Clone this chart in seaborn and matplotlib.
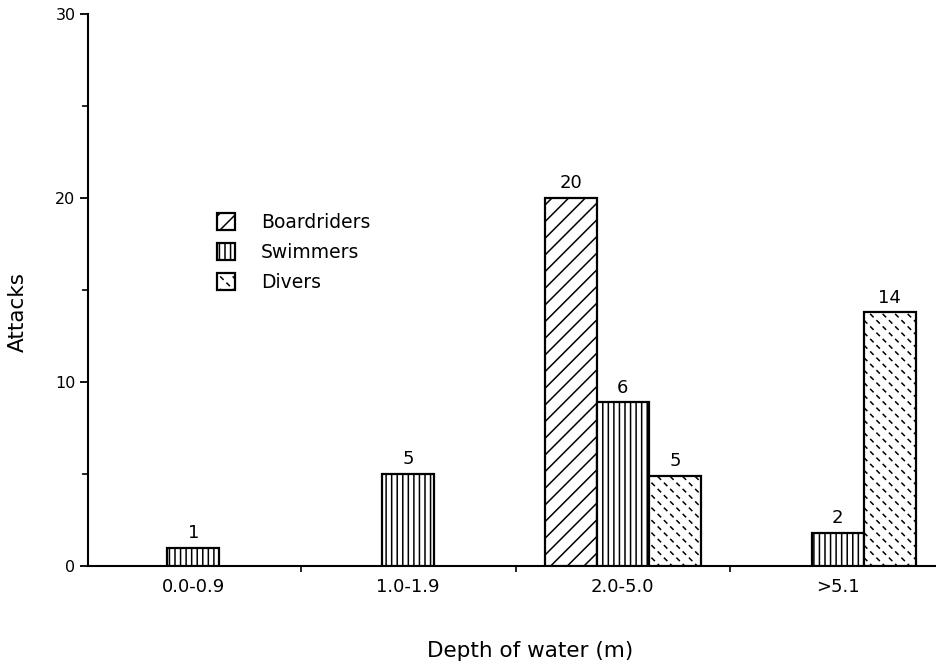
import numpy as np
import pandas as pd
import matplotlib
matplotlib.use("Agg")
import matplotlib.pyplot as plt
import matplotlib.hatch as mhatch
from matplotlib.path import Path
import seaborn as sns

# ---- data ----
categories = ["0.0-0.9", "1.0-1.9", "2.0-5.0", ">5.1"]
series = ["Boardriders", "Swimmers", "Divers"]
boardriders = [0, 0, 20, 0]
swimmers = [1, 5, 8.9, 1.8]
divers = [0, 0, 4.9, 13.8]
boardriders_labels = ["", "", "20", ""]
swimmers_labels = ["1", "5", "6", "2"]
divers_labels = ["", "", "5", "14"]
yticks_major = [0, 10, 20, 30]
yticks_minor = [5, 15, 25]


# ---- custom dashed hatch (replaces the '*' star hatch) ----
class DashHatch(mhatch.HatchPatternBase):
    def __init__(self, hatch, density):
        self.on = hatch.count('*') > 0
        self.nx = 8
        self.ny = 16
        self.num_vertices = self.nx * self.ny * 2 if self.on else 0

    def set_vertices_and_codes(self, vertices, codes):
        d = 0.012
        k = 0
        for i in range(self.ny):
            for j in range(self.nx):
                cx = ((j + 0.25 + 0.5 * (i % 2)) / self.nx) % 1.0
                cy = (i + 0.5) / self.ny
                vertices[k] = (cx - d, cy + d)
                vertices[k + 1] = (cx + d, cy - d)
                codes[k] = Path.MOVETO
                codes[k + 1] = Path.LINETO
                k += 2


mhatch._hatch_types = [t for t in mhatch._hatch_types if t is not mhatch.Stars] + [DashHatch]

rows = []
for name, vals in zip(series, [boardriders, swimmers, divers]):
    for c, v in zip(categories, vals):
        if v > 0:
            rows.append({"depth": c, "attacks": v, "group": name})
df = pd.DataFrame(rows)
label_map = {"Boardriders": boardriders_labels, "Swimmers": swimmers_labels, "Divers": divers_labels}
vals_map = {"Boardriders": boardriders, "Swimmers": swimmers, "Divers": divers}
hatch_map = {"Boardriders": "//", "Swimmers": "|||", "Divers": "*"}

sns.set_theme(style="ticks")
plt.rcParams["font.family"] = ["DejaVu Sans"]
plt.rcParams["hatch.linewidth"] = 1.1
plt.rcParams["text.color"] = "black"
plt.rcParams["axes.labelcolor"] = "black"

fig = plt.figure(figsize=(9.37, 6.63), dpi=100)
ax = fig.add_axes([88 / 937, 97 / 663, 849 / 937, 552 / 663])

sns.barplot(data=df, x="depth", y="attacks", hue="group", order=categories,
            hue_order=series, palette=["white"] * 3, saturation=1,
            edgecolor="black", linewidth=1.6, width=0.726, errorbar=None,
            dodge=True, ax=ax, zorder=3)

conts = list(ax.containers)
for name, cont in zip(series, conts):
    for p in cont.patches:
        p.set_hatch(hatch_map[name])
        p.set_edgecolor("black")
    lbls = [l for l, v in zip(label_map[name], vals_map[name]) if v > 0]
    ax.bar_label(cont, labels=lbls, padding=4, fontsize=13, color="black")

if ax.get_legend() is not None:
    ax.get_legend().remove()
leg = ax.legend(handles=conts, labels=series, loc="upper left",
                bbox_to_anchor=(217 / 937, 1 - 213 / 663), bbox_transform=fig.transFigure,
                frameon=False, fontsize=13.5, handlelength=0.95, handleheight=1.0,
                handletextpad=1.4, labelspacing=0.58, borderpad=0, borderaxespad=0)
for t in leg.get_texts():
    t.set_color("black")

ax.set_xlim(-0.491, 3.463)
ax.set_ylim(0, 30)
ax.set_yticks(yticks_major)
ax.set_yticks(yticks_minor, minor=True)
ax.set_xticks(range(len(categories)))
ax.set_xticklabels(categories)
ax.set_xticks([0.5, 1.5, 2.5], minor=True)

ax.tick_params(axis="x", which="major", length=0, pad=9, labelsize=13, colors="black")
ax.tick_params(axis="x", which="minor", length=4, width=1.2, direction="out", color="black")
ax.tick_params(axis="y", which="major", length=6, width=1.3, pad=3, labelsize=11.5, colors="black")
ax.tick_params(axis="y", which="minor", length=4, width=1.2, color="black")

for s in ["top", "right"]:
    ax.spines[s].set_visible(False)
for s in ["left", "bottom"]:
    ax.spines[s].set_linewidth(1.5)
    ax.spines[s].set_color("black")

ax.set_xlabel("Depth of water (m)", fontsize=15.5, color="black")
ax.set_ylabel("Attacks", fontsize=15.5, color="black")
ax.xaxis.set_label_coords(0.5206, -0.136)
ax.yaxis.set_label_coords(-0.0707, 0.46)

fig.savefig("out.png", dpi=100, facecolor="white")
